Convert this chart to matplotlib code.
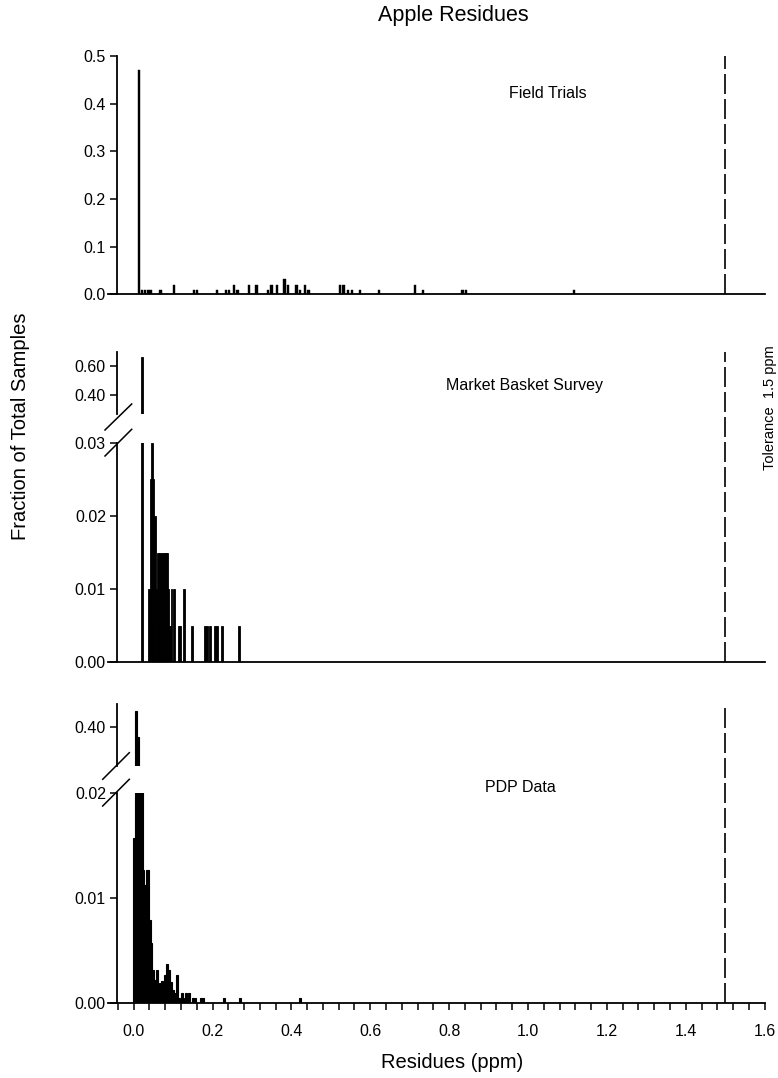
import matplotlib
matplotlib.use("Agg")
import matplotlib.pyplot as plt
from matplotlib.lines import Line2D

plt.rcParams['font.family'] = ['Liberation Sans', 'DejaVu Sans']

# residue (ppm) / fraction of samples
field_x = [0.014, 0.022, 0.029, 0.036, 0.043, 0.068, 0.102, 0.153, 0.161, 0.212,
           0.234, 0.242, 0.254, 0.263, 0.293, 0.312, 0.341, 0.350, 0.363, 0.383,
           0.392, 0.413, 0.422, 0.434, 0.443, 0.523, 0.532, 0.544, 0.553, 0.574,
           0.623, 0.713, 0.733, 0.834, 0.843, 1.117]
field_y = [0.47, 0.01, 0.01, 0.01, 0.01, 0.01, 0.02, 0.01, 0.01, 0.01,
           0.01, 0.01, 0.02, 0.01, 0.02, 0.02, 0.01, 0.02, 0.02, 0.033,
           0.02, 0.02, 0.01, 0.02, 0.01, 0.02, 0.02, 0.01, 0.01, 0.01,
           0.01, 0.02, 0.01, 0.01, 0.01, 0.01]

market_x = [0.020, 0.040, 0.043, 0.046, 0.050, 0.055, 0.058, 0.062, 0.065, 0.068,
            0.072, 0.075, 0.078, 0.081, 0.084, 0.088, 0.092, 0.096, 0.102, 0.115,
            0.118, 0.127, 0.147, 0.181, 0.187, 0.194, 0.206, 0.212, 0.223, 0.267]
market_y = [0.665, 0.010, 0.025, 0.030, 0.025, 0.020, 0.010, 0.015, 0.005, 0.015,
            0.015, 0.005, 0.015, 0.015, 0.015, 0.010, 0.005, 0.010, 0.010, 0.005,
            0.005, 0.010, 0.005, 0.005, 0.005, 0.005, 0.005, 0.005, 0.005, 0.005]

pdp_x = [0.000, 0.005, 0.010, 0.015, 0.020, 0.025, 0.029, 0.033, 0.037, 0.041,
         0.045, 0.050, 0.055, 0.060, 0.064, 0.068, 0.072, 0.076, 0.080, 0.085,
         0.090, 0.095, 0.100, 0.105, 0.111, 0.116, 0.122, 0.130, 0.134, 0.141,
         0.150, 0.155, 0.170, 0.177, 0.230, 0.269, 0.422]
pdp_y = [0.0157, 0.443, 0.376, 0.030, 0.025, 0.0127, 0.0113, 0.0127, 0.0127, 0.0079,
         0.0057, 0.0032, 0.0022, 0.0032, 0.0013, 0.0019, 0.0021, 0.0013, 0.0027, 0.0037,
         0.0032, 0.0020, 0.0013, 0.0010, 0.0027, 0.0005, 0.0010, 0.0005, 0.0010, 0.0010,
         0.0005, 0.0005, 0.0005, 0.0005, 0.0005, 0.0005, 0.0005]

tolerance = 1.5
x_ticks = [0.0, 0.2, 0.4, 0.6, 0.8, 1.0, 1.2, 1.4, 1.6]

W, H = 778, 1078
TICK_FS = 11.5
fig = plt.figure(figsize=(W / 100, H / 100), dpi=100)


def px_rect(top, bottom):
    left, right = 108.0, 764.6
    return [left / W, 1 - bottom / H, (right - left) / W, (bottom - top) / H]


def style(ax, show_bottom=True):
    ax.set_xlim(-0.065, 1.6)
    ax.spines['top'].set_visible(False)
    ax.spines['right'].set_visible(False)
    ax.spines['left'].set_position(('data', -0.042))
    ax.spines['bottom'].set_visible(show_bottom)
    for s in ax.spines.values():
        s.set_linewidth(1.3)
    ax.tick_params(axis='y', direction='out', length=5, width=1.1, labelsize=TICK_FS, pad=3)
    ax.tick_params(axis='x', bottom=False, labelbottom=False)


def tol_line(ax_low, top_px, bottom_px):
    ymax = (bottom_px - top_px) / (ax_low.get_position().height * H)
    ax_low.axvline(tolerance, 0, ymax, color='black', lw=1.2, dashes=(12, 3), clip_on=False)


# Field trials
ax1 = fig.add_axes(px_rect(56, 294.3))
ax1.bar(field_x, field_y, width=0.006, color='black', edgecolor='black', linewidth=0.3)
ax1.set_ylim(0, 0.5)
ax1.set_yticks([0.0, 0.1, 0.2, 0.3, 0.4, 0.5])
ax1.set_yticklabels(['0.0', '0.1', '0.2', '0.3', '0.4', '0.5'])
style(ax1)
tol_line(ax1, 56, 294.3)

# Market basket (broken axis)
ax2u = fig.add_axes(px_rect(351.7, 414))
ax2l = fig.add_axes(px_rect(442.7, 662.3))
for a in (ax2u, ax2l):
    a.bar(market_x, market_y, width=0.005, color='black', edgecolor='black', linewidth=0.6)
ax2u.set_ylim(0.27, 0.70)
ax2u.set_yticks([0.40, 0.60])
ax2u.set_yticklabels(['0.40', '0.60'])
ax2l.set_ylim(0, 0.03)
ax2l.set_yticks([0.00, 0.01, 0.02, 0.03])
ax2l.set_yticklabels(['0.00', '0.01', '0.02', '0.03'])
style(ax2u, show_bottom=False)
style(ax2l)
tol_line(ax2l, 351.7, 662.3)

# PDP data (broken axis)
ax3u = fig.add_axes(px_rect(704, 766))
ax3l = fig.add_axes(px_rect(793.3, 1003.3))
for a in (ax3u, ax3l):
    a.bar(pdp_x, pdp_y, width=0.005, color='black', edgecolor='black', linewidth=0.8)
ax3u.set_ylim(0.30, 0.46)
ax3u.set_yticks([0.40])
ax3u.set_yticklabels(['0.40'])
ax3l.set_ylim(0, 0.02)
ax3l.set_yticks([0.00, 0.01, 0.02])
ax3l.set_yticklabels(['0.00', '0.01', '0.02'])
style(ax3u, show_bottom=False)
style(ax3l)
ax3l.set_xticks(x_ticks)
ax3l.set_xticklabels([f"{v:.1f}" for v in x_ticks])
ax3l.set_xticks([-0.04 + 0.04 * i for i in range(42)], minor=True)
ax3l.tick_params(axis='x', which='both', bottom=True, labelbottom=True, direction='out',
                 length=5, width=1.1, labelsize=TICK_FS, pad=10)
tol_line(ax3l, 704, 1003.3)

# break marks on the y axis
for (x0, y0, x1, y1) in [(105, 430, 131.7, 404), (105, 456, 131.7, 429.3),
                         (102.7, 779.3, 129.3, 752.7), (102.7, 806, 129.3, 779.3)]:
    fig.add_artist(Line2D([x0 / W, x1 / W], [1 - y0 / H, 1 - y1 / H],
                          transform=fig.transFigure, color='black', lw=1.1))

fig.text(453 / W, 1 - 16 / H, 'Apple Residues', ha='center', va='center', fontsize=15.5)
fig.text(548 / W, 1 - 93 / H, 'Field Trials', ha='center', va='center', fontsize=11.5)
fig.text(525 / W, 1 - 385 / H, 'Market Basket Survey', ha='center', va='center', fontsize=11.5)
fig.text(520 / W, 1 - 788 / H, 'PDP Data', ha='center', va='center', fontsize=11.5)
fig.text(452 / W, 1 - 1062 / H, 'Residues (ppm)', ha='center', va='center', fontsize=14.5)
fig.text(21 / W, 1 - 426 / H, 'Fraction of Total Samples', ha='center', va='center',
         rotation=90, fontsize=14.5)
fig.text(770 / W, 1 - 408 / H, 'Tolerance  1.5 ppm', ha='center', va='center',
         rotation=90, fontsize=10.5)

fig.savefig('out.png', dpi=100)
